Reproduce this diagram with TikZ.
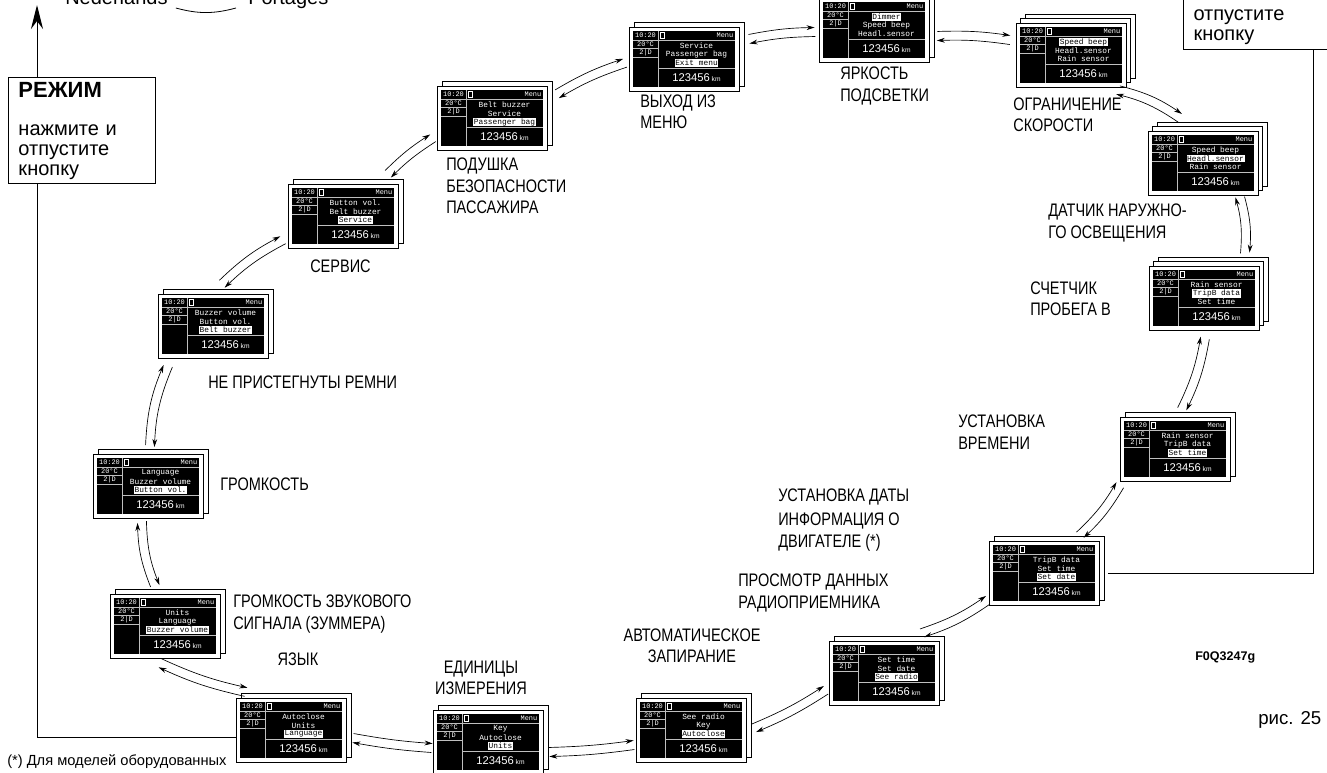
\documentclass[tikz,border=0pt]{standalone}
\usepackage{fontspec}
\setmainfont{Liberation Sans}
\newfontfamily\condfont{Liberation Sans}[FakeStretch=0.8]
\newfontfamily\lcdfont{Liberation Mono}
\usetikzlibrary{arrows.meta,calc}

\tikzset{
  sheet/.style={draw, fill=white, line width=0.5pt},
  page/.style={sheet, anchor=north west, minimum width=82.5pt, minimum height=48pt, inner sep=0},
  seg/.style={draw=white!75!black, line width=0.4pt},
  lcdtxt/.style={text=white, inner sep=0, font=\lcdfont\fontsize{5.2}{5.2}\selectfont},
  lcdrow/.style={lcdtxt, font=\lcdfont\fontsize{5.9}{5.9}\selectfont},
  odo/.style={text=white, inner sep=0, font=\fontsize{8.4}{9}\selectfont},
  lbl/.style={font=\condfont\fontsize{13.6}{16}\selectfont, inner sep=0, align=left, anchor=west},
  flow/.style={-{Stealth[length=6pt,width=3.6pt]}, line width=0.5pt},
  modebox/.style={draw, line width=0.75pt, fill=white, align=left, text width=95.25pt,
    inner xsep=7.5pt, inner ysep=3.4pt, font=\fontsize{15}{15}\selectfont}
}

% highlighted menu line
\newcommand{\hl}[1]{{\setlength{\fboxsep}{0.5pt}\colorbox{white}{\textcolor{black}{#1}}}}

% display: name, page corner, back sheets, three menu lines
\newcommand{\lcd}[6]{%
  \foreach \k in {#3} \draw[sheet] ($(#2)+(\k,-\k)$) rectangle ++(110,64);
  \node[page] (#1) at (#2) {};
  \begin{scope}[shift={(#1.north west)}]
    \fill (4,4) rectangle (106,60);
    \draw[seg] (4,13) -- (106,13) (29,4) -- (29,60) (4,21) -- (29,21)
      (4,30) -- (29,30) (29,41) -- (106,41);
    \draw[white, line width=0.4pt] (31.5,5.5) rectangle (35.5,11.5);
    \node[lcdtxt] at (16.5,8.5) {10:20};
    \node[lcdtxt, anchor=east] at (104.5,8.5) {Menu};
    \node[lcdtxt] at (16.5,17) {20°C};
    \node[lcdtxt] at (16.5,25.5) {2|D};
    \node[lcdrow] at (67.5,19) {#4};
    \node[lcdrow] at (67.5,27.5) {#5};
    \node[lcdrow] at (67.5,36) {#6};
    \node[odo] at (67.5,50.5) {123456\,{\fontsize{5}{5}\selectfont km}};
  \end{scope}
}

% two-way arrows between displays
\newcommand{\twoway}[5][6]{%
  \path ([shift={(#3)}]#2.north west) coordinate (p) ([shift={(#5)}]#4.north west) coordinate (q);
  \draw[flow] ($(p)!3.4pt!90:(q)$) to[bend left=#1] ($(q)!3.4pt!-90:(p)$);
  \draw[flow] ($(q)!3.4pt!90:(p)$) to[bend right=#1] ($(p)!3.4pt!-90:(q)$);
}

\begin{document}
\begin{tikzpicture}[x=0.75pt, y=-0.75pt]
\useasboundingbox (0,0) rectangle (1327,772);

% Displays
\lcd{lang}{236,698}{5}{Autoclose}{Units}{\hl{Language}}
\lcd{units}{433,710}{5}{Key}{Autoclose}{\hl{Units}}
\lcd{lock}{636,698}{5}{See radio}{Key}{\hl{Autoclose}}
\lcd{radio}{829,641}{5}{Set time}{Set date}{\hl{See radio}}
\lcd{date}{989,541}{5}{TripB data}{Set time}{\hl{Set date}}
\lcd{time}{1120,417}{5}{Rain sensor}{TripB data}{\hl{Set time}}
\lcd{trip}{1149,266}{9,4.5}{Rain sensor}{\hl{TripB data}}{Set time}
\lcd{headl}{1148,131}{9,4.5}{Speed beep}{\hl{Headl.sensor}}{Rain sensor}
\lcd{speed}{1016,23}{9,4.5}{\hl{Speed beep}}{Headl.sensor}{Rain sensor}
\lcd{dimmer}{819,-2}{5}{\hl{Dimmer}}{Speed beep}{Headl.sensor}
\lcd{exit}{629,27}{5}{Service}{Passenger bag}{\hl{Exit menu}}
\lcd{bag}{437,86}{5}{Belt buzzer}{Service}{\hl{Passenger bag}}
\lcd{service}{288,184}{5}{Button vol.}{Belt buzzer}{\hl{Service}}
\lcd{belt}{158,294}{5}{Buzzer volume}{Button vol.}{\hl{Belt buzzer}}
\lcd{button}{93,454}{5}{Language}{Buzzer volume}{\hl{Button vol.}}
\lcd{buzzer}{110,594}{5}{Units}{Language}{\hl{Buzzer volume}}

% Arrows round the menu
\twoway[6]{lang}{10,-6}{buzzer}{50,69}
\twoway[10]{buzzer}{45,-8}{button}{49,68}
\twoway[10]{button}{57,-8}{belt}{10,72}
\twoway[8]{belt}{64,-10}{service}{-5,56}
\twoway[6]{service}{100,-10}{bag}{-4,52}
\twoway[6]{bag}{120,8}{exit}{-4,36}
\twoway[5]{exit}{120,12}{dimmer}{-4,34}
\twoway[5]{dimmer}{118,38}{speed}{-6,17}
\twoway[10]{speed}{102,67}{headl}{32,-13}
\twoway[10]{headl}{92,66}{trip}{96,-13}
\twoway[8]{trip}{56,72}{time}{62,-8}
\twoway[8]{time}{0,68}{date}{91,-6}
\twoway[8]{date}{-1,59}{radio}{93,-8}
\twoway[5]{radio}{-3,49}{lock}{118,30}
\twoway[3]{lock}{-2,47}{units}{116,42}
\twoway[3]{units}{-1,38}{lang}{117,40}

% Labels
\node[lbl, anchor=center, align=center] (t-lang) at (298,659) {ЯЗЫК};
\node[lbl, anchor=center, align=center] (t-units) at (481,678) {ЕДИНИЦЫ\\ИЗМЕРЕНИЯ};
\node[lbl, anchor=center, align=center] (t-lock) at (692,646) {АВТОМАТИЧЕСКОЕ\\ЗАПИРАНИЕ};
\node[lbl] (t-radio) at (738,593) {ПРОСМОТР ДАННЫХ\\РАДИОПРИЕМНИКА};
\node[lbl] (t-date) at (778,497) {УСТАНОВКА ДАТЫ};
\node[lbl] (t-engine) at (778,532) {ИНФОРМАЦИЯ О\\ДВИГАТЕЛЕ (*)};
\node[lbl] (t-time) at (958,432) {УСТАНОВКА\\ВРЕМЕНИ};
\node[lbl] (t-trip) at (1030,299) {СЧЕТЧИК\\ПРОБЕГА В};
\node[lbl] (t-headl) at (1048,223) {ДАТЧИК НАРУЖНО-\\ГО ОСВЕЩЕНИЯ};
\node[lbl] (t-speed) at (1013,115) {ОГРАНИЧЕНИЕ\\СКОРОСТИ};
\node[lbl] (t-dimmer) at (840,86) {ЯРКОСТЬ\\ПОДСВЕТКИ};
\node[lbl] (t-exit) at (640,112) {ВЫХОД ИЗ\\МЕНЮ};
\node[lbl] (t-bag) at (446,186) {ПОДУШКА\\БЕЗОПАСНОСТИ\\ПАССАЖИРА};
\node[lbl] (t-service) at (310,266) {СЕРВИС};
\node[lbl] (t-belt) at (208,382) {НЕ ПРИСТЕГНУТЫ РЕМНИ};
\node[lbl] (t-button) at (220,484) {ГРОМКОСТЬ};
\node[lbl] (t-buzzer) at (233,614) {ГРОМКОСТЬ ЗВУКОВОГО\\СИГНАЛА (ЗУММЕРА)};

% Mode buttons
\node[modebox, anchor=north west] (mode) at (8,77)
  {{\fontsize{16.5}{15}\selectfont\bfseries РЕЖИМ}\\[13.5pt]нажмите и\\отпустите\\кнопку};
\node[modebox, anchor=south west] (mode2) at (1183,50) {\strut\\отпустите\\кнопку};

\coordinate (up) at (37,5);
\draw[line width=0.75pt, -{Stealth[length=18pt,width=9pt,inset=6pt]}] (mode.north west -| up) -- (up);
\draw[line width=0.75pt] (mode.south west -| up) |- ([yshift=-5pt]lang.west);
\draw[line width=0.75pt] ($(mode2.south west)+(130,0)$) |- ([xshift=6pt]date.east);

% Top line (cut off)
\node[font=\fontsize{15}{15}\selectfont, inner sep=0, anchor=base west] (ned) at (65,4) {Nederlands};
\node[font=\fontsize{15}{15}\selectfont, inner sep=0, anchor=base west] (port) at (248,4) {Portages};
\draw[line width=0.6pt] ([xshift=6pt,yshift=-3pt]ned.base east) to[bend right=15] ([xshift=-9pt,yshift=-3pt]port.base west);

% Notes
\node[anchor=west, inner sep=0, font=\fontsize{11}{11}\selectfont] (note) at (7,762) {(*) Для моделей оборудованных};
\node[anchor=west, inner sep=0, font=\bfseries\fontsize{9.4}{9.4}\selectfont] (code) at (1195,657) {F0Q3247g};
\node[anchor=west, inner sep=0, font=\fontsize{14}{14}\selectfont] (fig) at (1258,720) {рис. 25};

\end{tikzpicture}
\end{document}
